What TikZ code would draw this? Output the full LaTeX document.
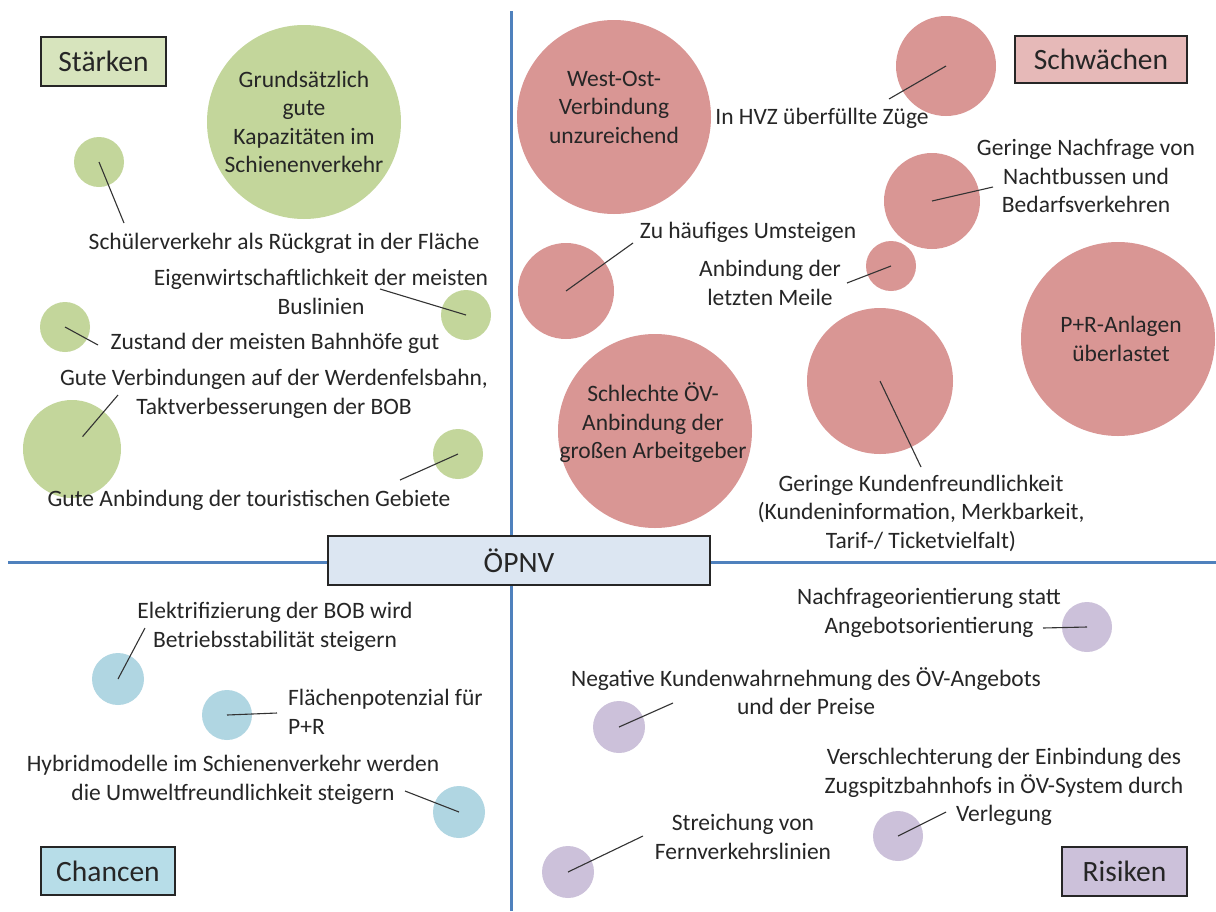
\documentclass[tikz,border=0pt]{standalone}
\usepackage{fontspec}
\setmainfont{Carlito}
\usetikzlibrary{calc}

\definecolor{axisblue}{RGB}{79,129,189}
\definecolor{staerkegreen}{RGB}{195,214,155}
\definecolor{staerkebox}{RGB}{215,228,189}
\definecolor{schwaechered}{RGB}{217,150,148}
\definecolor{schwaechebox}{RGB}{230,185,184}
\definecolor{chanceblue}{RGB}{176,214,226}
\definecolor{chancebox}{RGB}{183,221,232}
\definecolor{risikopurple}{RGB}{204,193,218}
\definecolor{oepnvbox}{RGB}{220,230,242}
\definecolor{textgray}{RGB}{38,38,38}

\begin{document}
\begin{tikzpicture}[
        x=1pt, y=-1pt,
        every node/.style={font=\fontsize{23.5}{28.5}\selectfont, text=textgray},
        bubble/.style={circle, inner sep=0pt, minimum size=#1},
        quadbox/.style={draw=black!85, line width=1.5pt, font=\fontsize{29.5}{34}\selectfont},
        link/.style={black!80, line width=1.1pt},
        axis/.style={axisblue, line width=3pt}
    ]

        \fill[white] (0,0) rectangle (1216,911);
        \useasboundingbox (0,0) rectangle (1216,911);

% ---------- axes ----------
        \coordinate (axTop) at (511,11);
        \coordinate (axBottom) at (511,911);
        \coordinate (axLeft) at (8,562);
        \coordinate (axRight) at (1216,562);
        \draw[axis] (axTop) -- (axBottom);
        \draw[axis] (axLeft) -- (axRight);

% ---------- TOP LEFT: Staerken ----------
        \foreach \name/\x/\y/\r in {gKapaz/304/122/97, gSchueler/99/162/25, gBus/466/315/25,
                gBahnhof/65/327/25, gWerden/72/449/49, gTourist/458/454/25}
            \node[bubble=2*\r, fill=staerkegreen] (\name) at (\x,\y) {};

        \coordinate (eSchueler) at (124,223);
        \coordinate (eBus) at (380,289);
        \coordinate (eBahnhof) at (98,345);
        \coordinate (eWerden) at (118,395);
        \coordinate (eTourist) at (400,480);
        \draw[link] (gSchueler.center) -- (eSchueler);
        \draw[link] (gBus.center) -- (eBus);
        \draw[link] (gBahnhof.center) -- (eBahnhof);
        \draw[link] ($(gWerden.center)!0.23!(eWerden)$) -- (eWerden);
        \draw[link] (gTourist.center) -- (eTourist);

        \node[align=center] (tKapaz) at (304,122) {Grundsätzlich\\gute\\Kapazitäten im\\Schienenverkehr};
        \node (lSchueler) at (284,243) {Schülerverkehr als Rückgrat in der Fläche};
        \node[align=center] (lBus) at (321,292) {Eigenwirtschaftlichkeit der meisten\\Buslinien};
        \node (lBahnhof) at (275,343) {Zustand der meisten Bahnhöfe gut};
        \node[align=center] (lWerden) at (274,394) {Gute Verbindungen auf der Werdenfelsbahn,\\Taktverbesserungen der BOB};
        \node (lTourist) at (249,500) {Gute Anbindung der touristischen Gebiete};

        \node[quadbox, fill=staerkebox, minimum width=125pt, minimum height=49pt] (staerken) at (103.5,61.5) {Stärken};

% ---------- TOP RIGHT: Schwaechen ----------
        \foreach \name/\x/\y/\r in {rWestOst/614/117/97, rHVZ/946/66/50, rNacht/932/201/48,
                rMeile/891/266/25, rUmsteigen/566/291/48, rArbeit/655/431/97,
                rKunden/880/381/73, rParkRide/1118/339/97}
            \node[bubble=2*\r, fill=schwaechered] (\name) at (\x,\y) {};

        \coordinate (eHVZ) at (889,99);
        \coordinate (eNacht) at (993,187);
        \coordinate (eMeile) at (847,283);
        \coordinate (eUmsteigen) at (633,243);
        \coordinate (eKunden) at (921,467);
        \draw[link] (rHVZ.center) -- (eHVZ);
        \draw[link] (rNacht.center) -- (eNacht);
        \draw[link] (rMeile.center) -- (eMeile);
        \draw[link] (rUmsteigen.center) -- (eUmsteigen);
        \draw[link] (rKunden.center) -- (eKunden);

        \node[align=center] (tWestOst) at (614,107) {West-Ost-\\Verbindung\\unzureichend};
        \node[align=center] (tArbeit) at (653,423) {Schlechte ÖV-\\Anbindung der\\großen Arbeitgeber};
        \node[align=center] (tParkRide) at (1121,339) {P+R-Anlagen\\überlastet};
        \node (lHVZ) at (822,118) {In HVZ überfüllte Züge};
        \node[align=center] (lNacht) at (1086,176) {Geringe Nachfrage von\\Nachtbussen und\\Bedarfsverkehren};
        \node[align=center] (lMeile) at (770,283) {Anbindung der\\letzten Meile};
        \node (lUmsteigen) at (748,232) {Zu häufiges Umsteigen};
        \node[align=center] (lKunden) at (921,513) {Geringe Kundenfreundlichkeit\\(Kundeninformation, Merkbarkeit,\\Tarif-/ Ticketvielfalt)};

        \node[quadbox, fill=schwaechebox, minimum width=172pt, minimum height=47pt] (schwaechen) at (1101,59.5) {Schwächen};

% ---------- BOTTOM LEFT: Chancen ----------
        \foreach \name/\x/\y/\r in {bElektro/118/679/26, bFlaeche/227/715/25, bHybrid/459/812/26}
            \node[bubble=2*\r, fill=chanceblue] (\name) at (\x,\y) {};

        \coordinate (eElektro) at (145,628);
        \coordinate (eFlaeche) at (277,713);
        \coordinate (eHybrid) at (405,791);
        \draw[link] (bElektro.center) -- (eElektro);
        \draw[link] (bFlaeche.center) -- (eFlaeche);
        \draw[link] (bHybrid.center) -- (eHybrid);

        \node[align=center] (lElektro) at (275,627) {Elektrifizierung der BOB wird\\Betriebsstabilität steigern};
        \node[align=left, anchor=west, inner sep=0pt] (lFlaeche) at (288,712) {Flächenpotenzial für\\P+R};
        \node[align=center] (lHybrid) at (233,780) {Hybridmodelle im Schienenverkehr werden\\die Umweltfreundlichkeit steigern};

        \node[quadbox, fill=chancebox, minimum width=134pt, minimum height=48pt] (chancen) at (108,871) {Chancen};

% ---------- BOTTOM RIGHT: Risiken ----------
        \foreach \name/\x/\y/\r in {pNachfrage/1087/627/25, pNegativ/619/727/26,
                pZugspitz/898/836/25, pStreichung/568/872/26}
            \node[bubble=2*\r, fill=risikopurple] (\name) at (\x,\y) {};

        \coordinate (eNachfrage) at (1043,628);
        \coordinate (eNegativ) at (673,703);
        \coordinate (eZugspitz) at (946,812);
        \coordinate (eStreichung) at (643,836);
        \draw[link] (pNachfrage.center) -- (eNachfrage);
        \draw[link] (pNegativ.center) -- (eNegativ);
        \draw[link] (pZugspitz.center) -- (eZugspitz);
        \draw[link] (pStreichung.center) -- (eStreichung);

        \node[align=center] (lNachfrage) at (929,613) {Nachfrageorientierung statt\\Angebotsorientierung};
        \node[align=center] (lNegativ) at (806,691) {Negative Kundenwahrnehmung des ÖV-Angebots\\und der Preise};
        \node[align=center] (lZugspitz) at (1004,787) {Verschlechterung der Einbindung des\\Zugspitzbahnhofs in ÖV-System durch\\Verlegung};
        \node[align=center] (lStreichung) at (743,837) {Streichung von\\Fernverkehrslinien};

        \node[quadbox, fill=risikopurple, minimum width=125pt, minimum height=49pt] (risiken) at (1124.5,871.5) {Risiken};

% ---------- centre: OEPNV ----------
        \node[quadbox, fill=oepnvbox, minimum width=382pt, minimum height=49pt] (oepnv) at (519,560.5) {ÖPNV};

    \end{tikzpicture}
\end{document}
